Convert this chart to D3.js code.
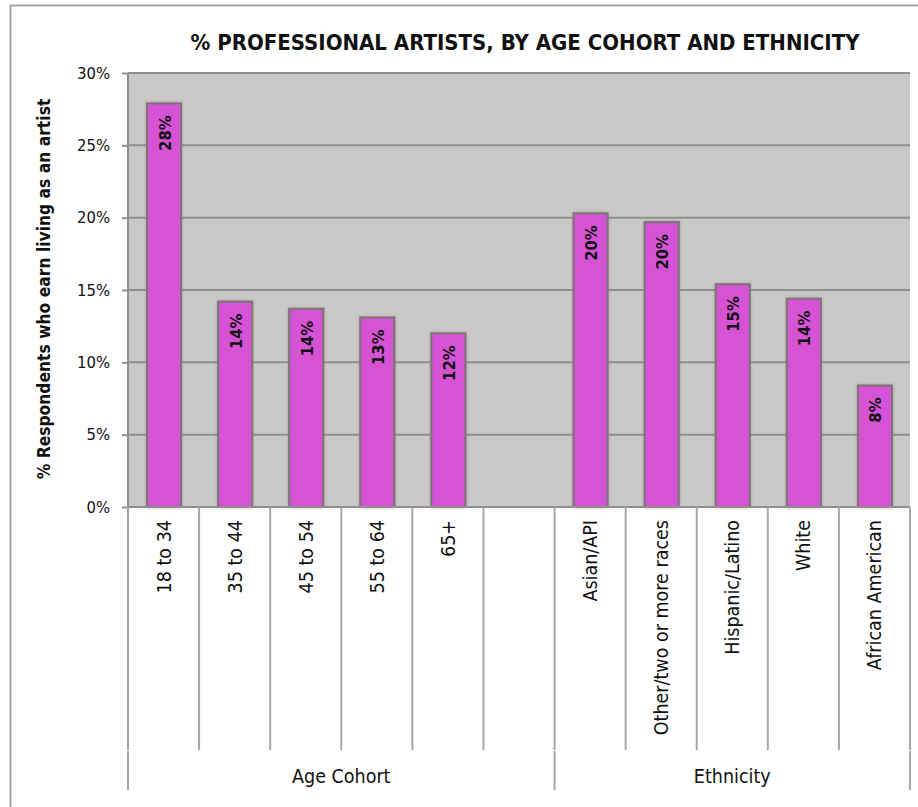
<!DOCTYPE html>
<html>
<head>
<meta charset="utf-8">
<script src="https://cdn.jsdelivr.net/npm/d3@7/dist/d3.min.js"></script>
<style>
  html, body { margin: 0; padding: 0; background: #fff; }
  svg { display: block; }
</style>
</head>
<body>
<svg id="chart" width="918" height="807"></svg>
<script>
// Chart data
const ageCohorts = ["18 to 34", "35 to 44", "45 to 54", "55 to 64", "65+"];
const ageValues = [27.9, 14.2, 13.7, 13.1, 12.0];
const ethnicities = ["Asian/API", "Other/two or more races", "Hispanic/Latino", "White", "African American"];
const ethnicityValues = [20.3, 19.7, 15.4, 14.4, 8.4];
const groupNames = ["Age Cohort", "Ethnicity"];
const yTicks = [0, 5, 10, 15, 20, 25, 30];
const titleText = "% PROFESSIONAL ARTISTS, BY AGE COHORT AND ETHNICITY";
const yTitle = "% Respondents who earn living as an artist";

// One blank slot sits after the age cohorts, inside the first group
const slots = [
  ...ageCohorts.map((c, i) => ({ key: "a" + i, label: c, value: ageValues[i] })),
  { key: "gap", label: "", value: null },
  ...ethnicities.map((c, i) => ({ key: "e" + i, label: c, value: ethnicityValues[i] }))
];
const groups = [
  { name: groupNames[0], first: "a0", last: "gap" },
  { name: groupNames[1], first: "e0", last: "e4" }
];

const svg = d3.select("#chart");
const plot = { left: 128, right: 910, top: 73, bottom: 507 };
const catLineBottom = 750, groupLineBottom = 790;
const sans = "'DejaVu Sans Condensed', 'DejaVu Sans', sans-serif";

const x = d3.scaleBand().domain(slots.map(d => d.key)).range([plot.left, plot.right]).paddingInner(0).paddingOuter(0);
const y = d3.scaleLinear().domain([0, 30]).range([plot.bottom, plot.top]);

// Outer chart frame
svg.append("path")
  .attr("d", `M10.5,${807} L10.5,5.5 L918,5.5`)
  .attr("fill", "none").attr("stroke", "#a6a6a6").attr("stroke-width", 2);

// Plot background
svg.append("rect")
  .attr("x", plot.left).attr("y", plot.top)
  .attr("width", plot.right - plot.left).attr("height", plot.bottom - plot.top)
  .attr("fill", "#c9c9c9");

// Y axis with gridlines
const yAxis = d3.axisLeft(y).tickValues(yTicks).tickFormat(d => d + "%").tickSize(6).tickPadding(12);
const yg = svg.append("g").attr("transform", `translate(${plot.left},0)`).call(yAxis);
yg.select(".domain").attr("stroke", "#8f8f8f").attr("stroke-width", 2).attr("d", `M0,${plot.top}V${plot.bottom}`);
yg.selectAll(".tick line").attr("stroke", "#8f8f8f").attr("stroke-width", 2);
yg.selectAll(".tick text")
  .attr("font-family", sans).attr("font-size", 16.5).attr("fill", "#111");

svg.append("g").selectAll("line").data(yTicks.filter(t => t > 0)).join("line")
  .attr("x1", plot.left).attr("x2", plot.right)
  .attr("y1", d => y(d)).attr("y2", d => y(d))
  .attr("stroke", "#8f8f8f").attr("stroke-width", 2);

// Soft shadow under the bars
const defs = svg.append("defs");
const f = defs.append("filter").attr("id", "barShadow").attr("x", "-30%").attr("y", "-10%").attr("width", "160%").attr("height", "120%");
f.append("feGaussianBlur").attr("in", "SourceAlpha").attr("stdDeviation", 1.6).attr("result", "b");
f.append("feFlood").attr("flood-color", "#b06a5a").attr("flood-opacity", 0.55);
f.append("feComposite").attr("in2", "b").attr("operator", "in").attr("result", "s");
const m = f.append("feMerge");
m.append("feMergeNode").attr("in", "s");
m.append("feMergeNode").attr("in", "SourceGraphic");

// Bars
const barW = x.bandwidth() * 0.48;
const bars = slots.filter(d => d.value !== null);
svg.append("g").selectAll("rect").data(bars).join("rect")
  .attr("x", d => x(d.key) + (x.bandwidth() - barW) / 2 + 0.5)
  .attr("y", d => y(d.value))
  .attr("width", barW)
  .attr("height", d => y(0) - y(d.value))
  .attr("fill", "#d752d5")
  .attr("stroke", "#777777").attr("stroke-width", 2)
  .attr("filter", "url(#barShadow)");

// Value labels inside the bars, rotated
svg.append("g").selectAll("text").data(bars).join("text")
  .attr("transform", d => `translate(${x(d.key) + x.bandwidth() / 2 + 7},${y(d.value) + 12}) rotate(-90)`)
  .attr("text-anchor", "end")
  .attr("font-family", sans).attr("font-weight", "bold").attr("font-size", 16.5).attr("fill", "#111")
  .text(d => Math.round(d.value) + "%");

// X axis baseline
svg.append("line")
  .attr("x1", plot.left).attr("x2", plot.right).attr("y1", plot.bottom).attr("y2", plot.bottom)
  .attr("stroke", "#8f8f8f").attr("stroke-width", 2);

// Category dividers
const boundaries = slots.map(d => x(d.key)).concat([plot.right]);
svg.append("g").selectAll("line").data(boundaries).join("line")
  .attr("x1", d => d).attr("x2", d => d)
  .attr("y1", plot.bottom).attr("y2", catLineBottom)
  .attr("stroke", "#a6a6a6").attr("stroke-width", 2);

// Group dividers
const groupEdges = [x(groups[0].first), x(groups[1].first), plot.right];
svg.append("g").selectAll("line").data(groupEdges).join("line")
  .attr("x1", d => d).attr("x2", d => d)
  .attr("y1", catLineBottom + 1).attr("y2", groupLineBottom)
  .attr("stroke", "#a6a6a6").attr("stroke-width", 2);

// Category labels, rotated
svg.append("g").selectAll("text").data(slots.filter(d => d.label)).join("text")
  .attr("transform", d => `translate(${x(d.key) + x.bandwidth() / 2 + 7},${plot.bottom + 13}) rotate(-90)`)
  .attr("text-anchor", "end")
  .attr("font-family", sans).attr("font-size", 19.5).attr("fill", "#111")
  .text(d => d.label);

// Group labels
svg.append("g").selectAll("text").data(groups).join("text")
  .attr("x", d => (x(d.first) + x(d.last) + x.bandwidth()) / 2)
  .attr("y", 783)
  .attr("text-anchor", "middle")
  .attr("font-family", sans).attr("font-size", 19.5).attr("fill", "#111")
  .text(d => d.name);

// Title
svg.append("text")
  .attr("x", 525).attr("y", 50)
  .attr("text-anchor", "middle")
  .attr("font-family", sans).attr("font-weight", "bold").attr("font-size", 22).attr("fill", "#111")
  .text(titleText);

// Y axis title
svg.append("text")
  .attr("transform", `translate(50,289) rotate(-90)`)
  .attr("text-anchor", "middle")
  .attr("font-family", sans).attr("font-weight", "bold").attr("font-size", 17.3).attr("fill", "#111")
  .text(yTitle);
</script>
</body>
</html>
